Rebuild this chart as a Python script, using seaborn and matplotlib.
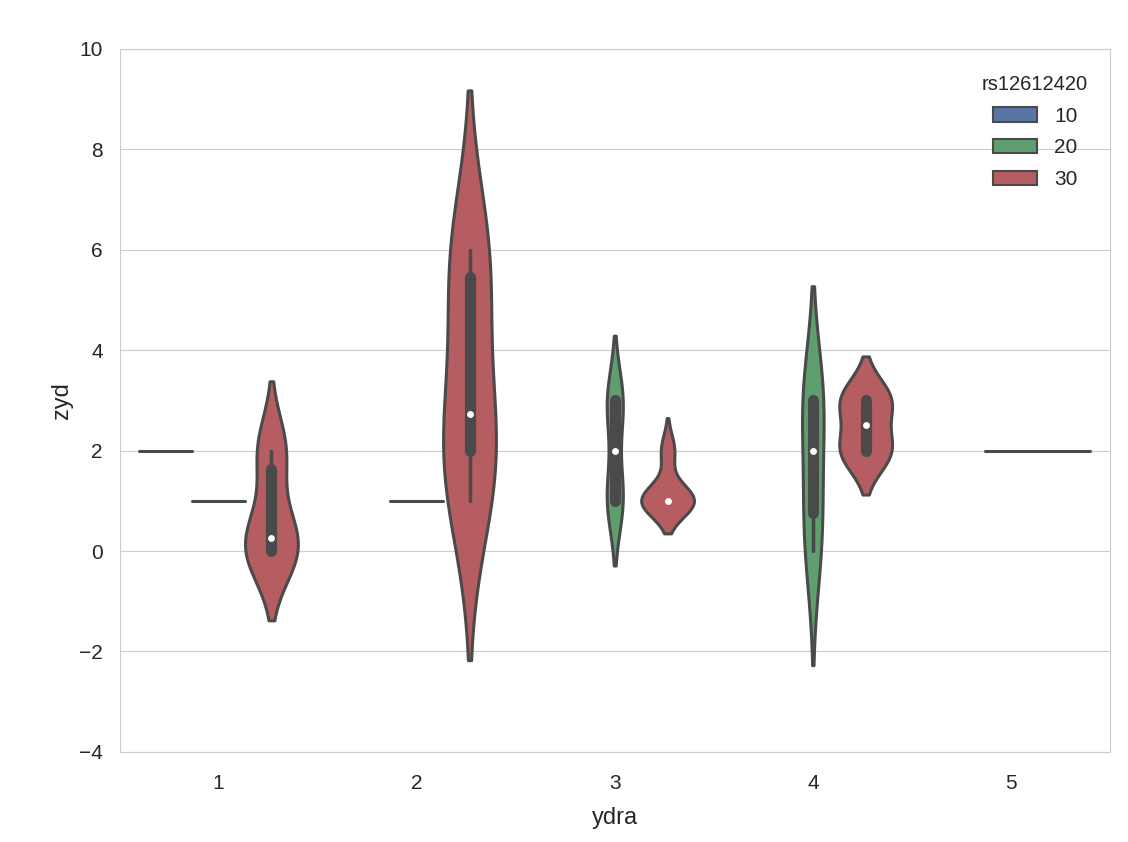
import numpy as np
import pandas as pd
import seaborn as sns
import matplotlib.pyplot as plt

sns.set_style("whitegrid")
plt.rcParams["font.family"] = ["Liberation Sans", "DejaVu Sans"]

# one entry per (ydra, rs12612420) cell that has observations
ydra = [1, 1, 1, 2, 2, 3, 3, 4, 4, 5, 5]
rs12612420 = ["10", "20", "30", "20", "30", "20", "30", "20", "30", "20", "30"]
zyd = [
    [2],
    [1],
    [0, 0, 0, 0.5, 2, 2],
    [1],
    [1, 2, 2.73, 5.46, 6],
    [1, 1, 1, 1, 2, 3, 3, 3, 3],
    [1, 1, 1, 1, 2],
    [0, 1, 3, 3],
    [2, 2, 3, 3],
    [2],
    [2],
]
ydra_levels = [1, 2, 3, 4, 5]
hue_levels = ["10", "20", "30"]
colors = ["#4C72B0", "#55A868", "#C44E52"]  # old seaborn "deep"

df = pd.DataFrame({"ydra": ydra, "rs12612420": rs12612420, "zyd": zyd}).explode("zyd")
df["zyd"] = df["zyd"].astype(float)

fig, ax = plt.subplots(figsize=(11.28, 8.42), dpi=100)
fig.subplots_adjust(left=0.106, right=0.984, top=0.942, bottom=0.107)

# scale violins within each ydra group (like the old scale_hue=True)
for i, level in enumerate(ydra_levels):
    sub = df[df["ydra"] == level]
    sns.violinplot(data=sub, x="ydra", y="zyd", hue="rs12612420",
                   order=ydra_levels, hue_order=hue_levels, palette=colors,
                   dodge=True, common_norm=True, linewidth=2.2,
                   linecolor="#4a4a4a", inner="box",
                   inner_kws=dict(box_width=8, whis_width=2.5, marker="."),
                   legend=(i == 0), ax=ax)

ax.set_ylim(-4, 10)
ax.set_yticks(np.arange(-4, 11, 2))
ax.set_xlabel("ydra", fontsize=17, color=".15", labelpad=10)
ax.set_ylabel("zyd", fontsize=17, color=".15")
ax.tick_params(labelsize=15, colors=".15", length=0)
ax.tick_params(axis="x", pad=16)
ax.tick_params(axis="y", pad=12)
for s in ax.spines.values():
    s.set_color("#cccccc")

sns.move_legend(ax, "upper right", bbox_to_anchor=(0.997, 0.99), frameon=False,
                title="rs12612420", fontsize=15, title_fontsize=14.5,
                handlelength=2.1, labelspacing=0.62, handletextpad=0.85)
for h in ax.get_legend().legend_handles:
    h.set_linewidth(1.5)

plt.savefig("out.png", dpi=100)
